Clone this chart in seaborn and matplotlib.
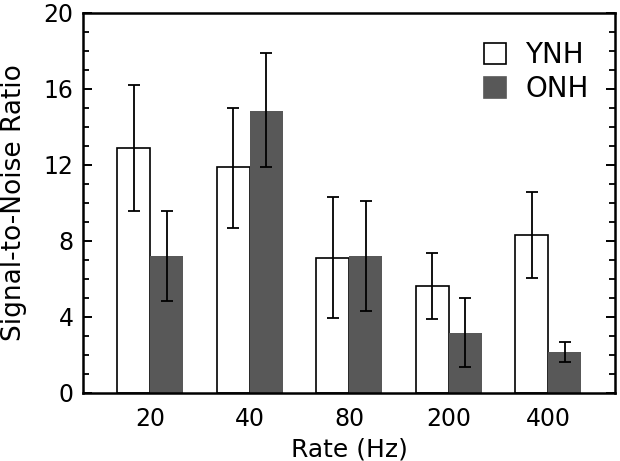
import numpy as np
import pandas as pd
import matplotlib
matplotlib.use("Agg")
import matplotlib.pyplot as plt
import seaborn as sns
from matplotlib.ticker import MultipleLocator

# Data
rates = ["20", "40", "80", "200", "400"]
ynh_mean = [12.87, 11.87, 7.08, 5.63, 8.31]
ynh_lo = [9.56, 8.7, 3.93, 3.87, 6.03]
ynh_hi = [16.19, 15.01, 10.29, 7.35, 10.56]
onh_mean = [7.2, 14.85, 7.2, 3.17, 2.14]
onh_lo = [4.85, 11.9, 4.31, 1.38, 1.63]
onh_hi = [9.56, 17.9, 10.12, 4.99, 2.69]

df = pd.DataFrame({
    "Rate": rates * 2,
    "SNR": ynh_mean + onh_mean,
    "Group": ["YNH"] * 5 + ["ONH"] * 5,
})

sns.set_style("ticks")
plt.rcParams["font.family"] = ["DejaVu Sans"]
for k in ["text.color", "axes.labelcolor", "xtick.color", "ytick.color", "axes.edgecolor"]:
    plt.rcParams[k] = "black"

gray = "#585858"
fig, ax = plt.subplots(figsize=(6.2, 4.61), dpi=100)
palette = {"YNH": "white", "ONH": gray}
sns.barplot(data=df, x="Rate", y="SNR", hue="Group", order=rates,
            hue_order=["YNH", "ONH"], palette=palette, width=0.663,
            errorbar=None, ax=ax, saturation=1)

# style bars and add error bars from the arrays
n = len(rates)
patches = [p for p in ax.patches if p.get_height() > 0][:2 * n]
for i, p in enumerate(patches):
    cx = p.get_x() + p.get_width() / 2
    if i < n:
        p.set_edgecolor("black")
        p.set_linewidth(1.2)
        m, lo, hi = ynh_mean[i], ynh_lo[i], ynh_hi[i]
    else:
        p.set_linewidth(0)
        j = i - n
        m, lo, hi = onh_mean[j], onh_lo[j], onh_hi[j]
    ax.errorbar(cx, m, yerr=[[m - lo], [hi - m]], fmt="none",
                ecolor="black", elinewidth=1.3, capsize=4.6, capthick=1.3,
                zorder=5)

ax.set_xlim(-0.67, 4.67)
ax.set_ylim(0, 20)
ax.yaxis.set_major_locator(MultipleLocator(4))
ax.yaxis.set_minor_locator(MultipleLocator(1))
ax.tick_params(axis="y", which="both", direction="in", left=True, right=True,
               labelsize=17, pad=7)
ax.tick_params(axis="y", which="major", length=6.5, width=1.4)
ax.tick_params(axis="y", which="minor", length=4.3, width=1.3)
ax.tick_params(axis="x", length=0, labelsize=17, pad=10)
for s in ax.spines.values():
    s.set_linewidth(1.8)
    s.set_visible(True)

ax.set_xlabel("Rate (Hz)", fontsize=18, labelpad=5)
ax.set_ylabel("Signal-to-Noise Ratio", fontsize=19, labelpad=12)

leg = ax.legend(loc="upper left", frameon=False, fontsize=20,
                handlelength=0.79, handleheight=0.79, handletextpad=0.68,
                borderpad=0, borderaxespad=0, labelspacing=0.2,
                bbox_to_anchor=(0.754, 0.925))
for h in leg.legend_handles:
    h.set_edgecolor("black" if h.get_facecolor()[0] > 0.9 else gray)
    h.set_linewidth(1.2)

fig.subplots_adjust(left=0.1344, right=0.992, top=0.9725, bottom=0.1477)
fig.savefig("out.png", dpi=100)
